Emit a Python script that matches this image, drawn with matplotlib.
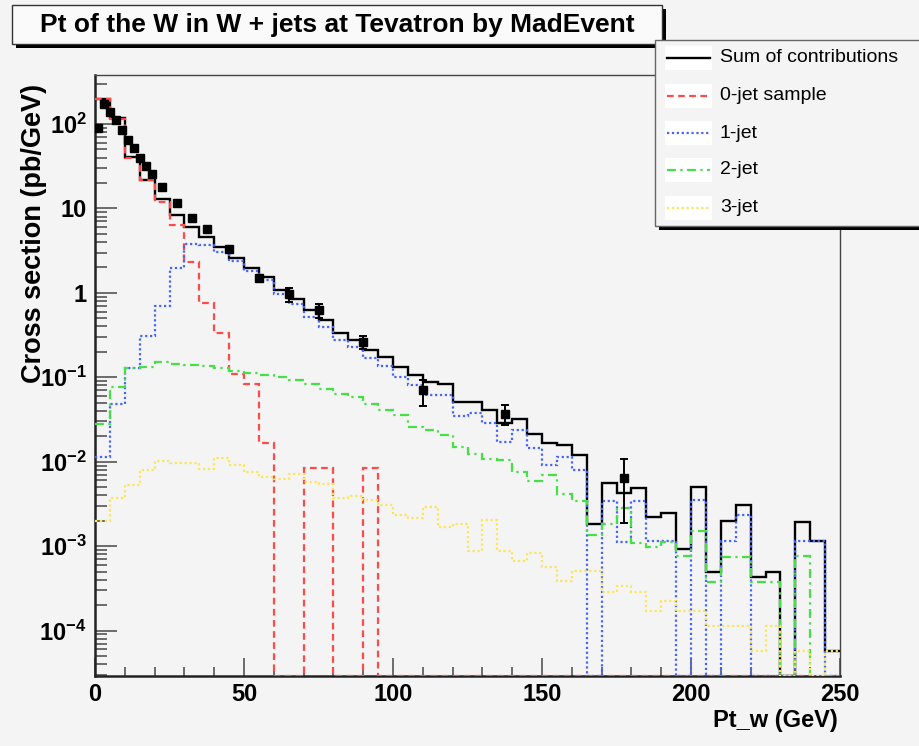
import numpy as np
import matplotlib.pyplot as plt
from matplotlib.patches import Rectangle
from matplotlib.lines import Line2D
from matplotlib.ticker import LogLocator, FuncFormatter, MultipleLocator, NullFormatter

plt.rcParams['font.family'] = ['Liberation Sans', 'DejaVu Sans']
plt.rcParams['font.weight'] = 'bold'
plt.rcParams['mathtext.fontset'] = 'custom'
plt.rcParams['mathtext.rm'] = 'Liberation Sans:bold'
plt.rcParams['mathtext.bf'] = 'Liberation Sans:bold'

# 5 GeV bins, 0 -> 250 GeV
bin_edges = np.arange(0, 255, 5)

sum_all = [199, 118, 40.7, 21.7, 12.9, 8.35, 6.07, 4.62, 3.51, 2.56,
           1.99, 1.54, 1.08, 0.835, 0.623, 0.483, 0.339, 0.275, 0.213, 0.174,
           0.1325, 0.107, 0.0873, 0.0826, 0.0509, 0.0509, 0.0406, 0.0287, 0.0324, 0.0215,
           0.0166, 0.0158, 0.0119, 0.00184, 0.00557, 0.00424, 0.00482, 0.00224, 0.00246, 0.00093,
           0.0050, 0.00049, 0.00197, 0.00309, 0.000436, 0.00049, 0, 0.00192, 0.00114, 5.7e-5]

jet0 = [197, 115, 40, 21.5, 11.9, 6.35, 2.31, 0.755, 0.333, 0.109,
        0.0826, 0.0165, 0, 0, 0.00838, 0.00838, 0, 0, 0.00838, 0,
        0, 0, 0, 0, 0, 0, 0, 0, 0, 0,
        0, 0, 0, 0, 0, 0, 0, 0, 0, 0,
        0, 0, 0, 0, 0, 0, 0, 0, 0, 0]

jet1 = [0.0113, 0.0478, 0.128, 0.306, 0.695, 1.96, 3.75, 3.71, 3.06, 2.36,
        1.82, 1.415, 0.965, 0.728, 0.519, 0.395, 0.280, 0.229, 0.167, 0.135,
        0.101, 0.0804, 0.0616, 0.0616, 0.0345, 0.0381, 0.0287, 0.0171, 0.0235, 0.0147,
        0.00904, 0.0113, 0.00795, 0, 0.00344, 0.00111, 0.00344, 0.00116, 0.00116, 0,
        0.00348, 0, 0.00114, 0.00231, 0, 0, 0, 0.00114, 0.00114, 0]

jet2 = [0.0277, 0.0761, 0.128, 0.1315, 0.152, 0.1445, 0.1387, 0.1377, 0.1297, 0.1195,
        0.1115, 0.107, 0.100, 0.092, 0.0826, 0.0721, 0.0629, 0.0584, 0.0487, 0.0406,
        0.0354, 0.0257, 0.0235, 0.0205, 0.0149, 0.0124, 0.0109, 0.0104, 0.00753, 0.00584,
        0.00687, 0.00413, 0.00341, 0.00134, 0.00185, 0.0028, 0.0011, 0.00097, 0.00111, 0.000774,
        0.00153, 0.000373, 0.000753, 0.000753, 0.000373, 0.000373, 0, 0.000774, 0, 0]

jet3 = [0.00196, 0.0037, 0.00524, 0.00789, 0.0101, 0.00973, 0.00973, 0.00826, 0.0110, 0.00904,
        0.00753, 0.00657, 0.00628, 0.00721, 0.00573, 0.00542, 0.00375, 0.00391, 0.00348, 0.00311,
        0.00231, 0.00217, 0.00287, 0.00168, 0.00181, 0.000887, 0.00206, 0.000887, 0.000675, 0.00084,
        0.000562, 0.000391, 0.000504, 0.000504, 0.000284, 0.000341, 0.000284, 0.000172, 0.000226, 0.000172,
        0.000172, 0.000114, 0.000114, 0.000114, 5.8e-5, 0.000114, 0, 5.8e-5, 0, 5.7e-5]

# measured points (black squares)
data_pt = [1, 3, 5, 7, 9, 11, 13, 15, 17, 19, 22.5, 27.5, 32.5, 37.5,
           45, 55, 65, 75, 90, 110, 137.5, 177.5]
data_xsec = [89, 172, 140, 110, 85, 65, 52.5, 39.3, 31.8, 25.4, 18.1, 11.5, 7.8, 5.65,
             3.27, 1.48, 0.966, 0.62, 0.262, 0.070, 0.037, 0.00638]
data_err = [2, 3, 3, 2, 2, 1.5, 1.2, 1, 0.8, 0.6, 0.4, 0.3, 0.2, 0.15,
            0.15, 0.15, 0.18, 0.11, 0.043, 0.024, 0.0098, 0.0045]

title = 'Pt of the W in W + jets at Tevatron by MadEvent'
legend_labels = ['Sum of contributions', '0-jet sample', '1-jet', '2-jet', '3-jet']
y_ticks = [1e-4, 1e-3, 1e-2, 1e-1, 1, 10, 100]

y_min, y_max = 2.9e-5, 380
bg = '#f4f4f4'

styles = [
    dict(color='black', lw=1.7, ls='-'),
    dict(color='#ff4a4a', lw=1.6, ls=(0, (3, 2))),
    dict(color='#4564ff', lw=1.6, ls=(0, (1, 1.2))),
    dict(color='#45e045', lw=1.6, ls=(0, (4, 2, 1, 2))),
    dict(color='#fbe65a', lw=1.6, ls=(0, (1, 1.2))),
]

W, H = 920, 746
fig = plt.figure(figsize=(W / 100, H / 100), dpi=100, facecolor=bg)
ax = fig.add_axes([95 / W, 70 / H, 745 / W, 601 / H])
ax.set_facecolor(bg)

for i, vals in enumerate([sum_all, jet0, jet1, jet2, jet3]):
    v = np.maximum(np.array(vals, dtype=float), y_min)
    st = styles[i]
    ax.stairs(v, bin_edges, baseline=None, color=st['color'], lw=st['lw'],
              linestyle=st['ls'], zorder=2 + (i > 0))

ax.errorbar(data_pt, data_xsec, yerr=data_err, fmt='s', color='black', ms=5.5,
            elinewidth=1.4, capsize=3, capthick=1.4, zorder=5)

ax.set_yscale('log')
ax.set_xlim(0, 250)
ax.set_ylim(y_min, y_max)

ax.xaxis.set_major_locator(MultipleLocator(50))
ax.xaxis.set_minor_locator(MultipleLocator(10))
ax.set_yticks(y_ticks)
ax.yaxis.set_minor_locator(LogLocator(base=10, subs=np.arange(2, 10), numticks=20))
ax.yaxis.set_minor_formatter(NullFormatter())


def ylabel_fmt(v, pos):
    e = int(round(np.log10(v)))
    if e == 1:
        return '10'
    if e == 0:
        return '1'
    return r'$\mathbf{10^{%d}}$' % e


ax.yaxis.set_major_formatter(FuncFormatter(ylabel_fmt))

ax.tick_params(axis='both', which='both', direction='in', colors='#555555',
               labelcolor='black', top=False, right=False, width=1.2)
ax.tick_params(axis='y', which='major', length=16, pad=6, labelsize=17)
ax.tick_params(axis='y', which='minor', length=8.5)
ax.tick_params(axis='x', which='major', length=13, pad=5, labelsize=17)
ax.tick_params(axis='x', which='minor', length=6.5)

for side in ['left', 'bottom']:
    ax.spines[side].set_linewidth(1.8)
    ax.spines[side].set_color('#222222')
for side in ['top', 'right']:
    ax.spines[side].set_linewidth(1.0)
    ax.spines[side].set_color('#444444')

fig.text(838 / W, 1 - 720 / H, 'Pt_w (GeV)', ha='right', va='center', fontsize=17)
fig.text(34 / W, 1 - 84 / H, 'Cross section (pb/GeV)', ha='center', va='top',
         rotation=90, fontsize=19.5)


def fx(x):
    return x / W


def fy(y):
    return 1 - y / H


# title pave with shadow
fig.add_artist(Rectangle((fx(16), fy(48)), 650 / W, 39 / H, facecolor='black',
                         edgecolor='none', zorder=10))
fig.add_artist(Rectangle((fx(12), fy(44)), 650 / W, 39 / H, facecolor='#fafafa',
                         edgecolor='#333333', lw=1.0, zorder=11))
fig.text(fx(337), fy(25), title, ha='center', va='center', fontsize=19, zorder=12)

# legend pave with shadow
fig.add_artist(Rectangle((fx(659), fy(230)), 270 / W, 186 / H, facecolor='black',
                         edgecolor='none', zorder=10))
fig.add_artist(Rectangle((fx(655), fy(226)), 270 / W, 186 / H, facecolor=bg,
                         edgecolor='#666666', lw=1.0, zorder=11))
entry_y = [58, 96, 133, 170, 208]
for st, lab, yy in zip(styles, legend_labels, entry_y):
    fig.add_artist(Rectangle((fx(665), fy(yy + 12)), 47 / W, 24 / H, facecolor='white',
                             edgecolor='none', zorder=12))
    fig.add_artist(Line2D([fx(667), fx(710)], [fy(yy), fy(yy)], color=st['color'],
                          lw=st['lw'], linestyle=st['ls'], zorder=13))
    fig.text(fx(720), fy(yy), lab, ha='left', va='center', fontsize=14,
             fontweight='normal', zorder=13)

fig.savefig('out.png', dpi=100, facecolor=bg)
